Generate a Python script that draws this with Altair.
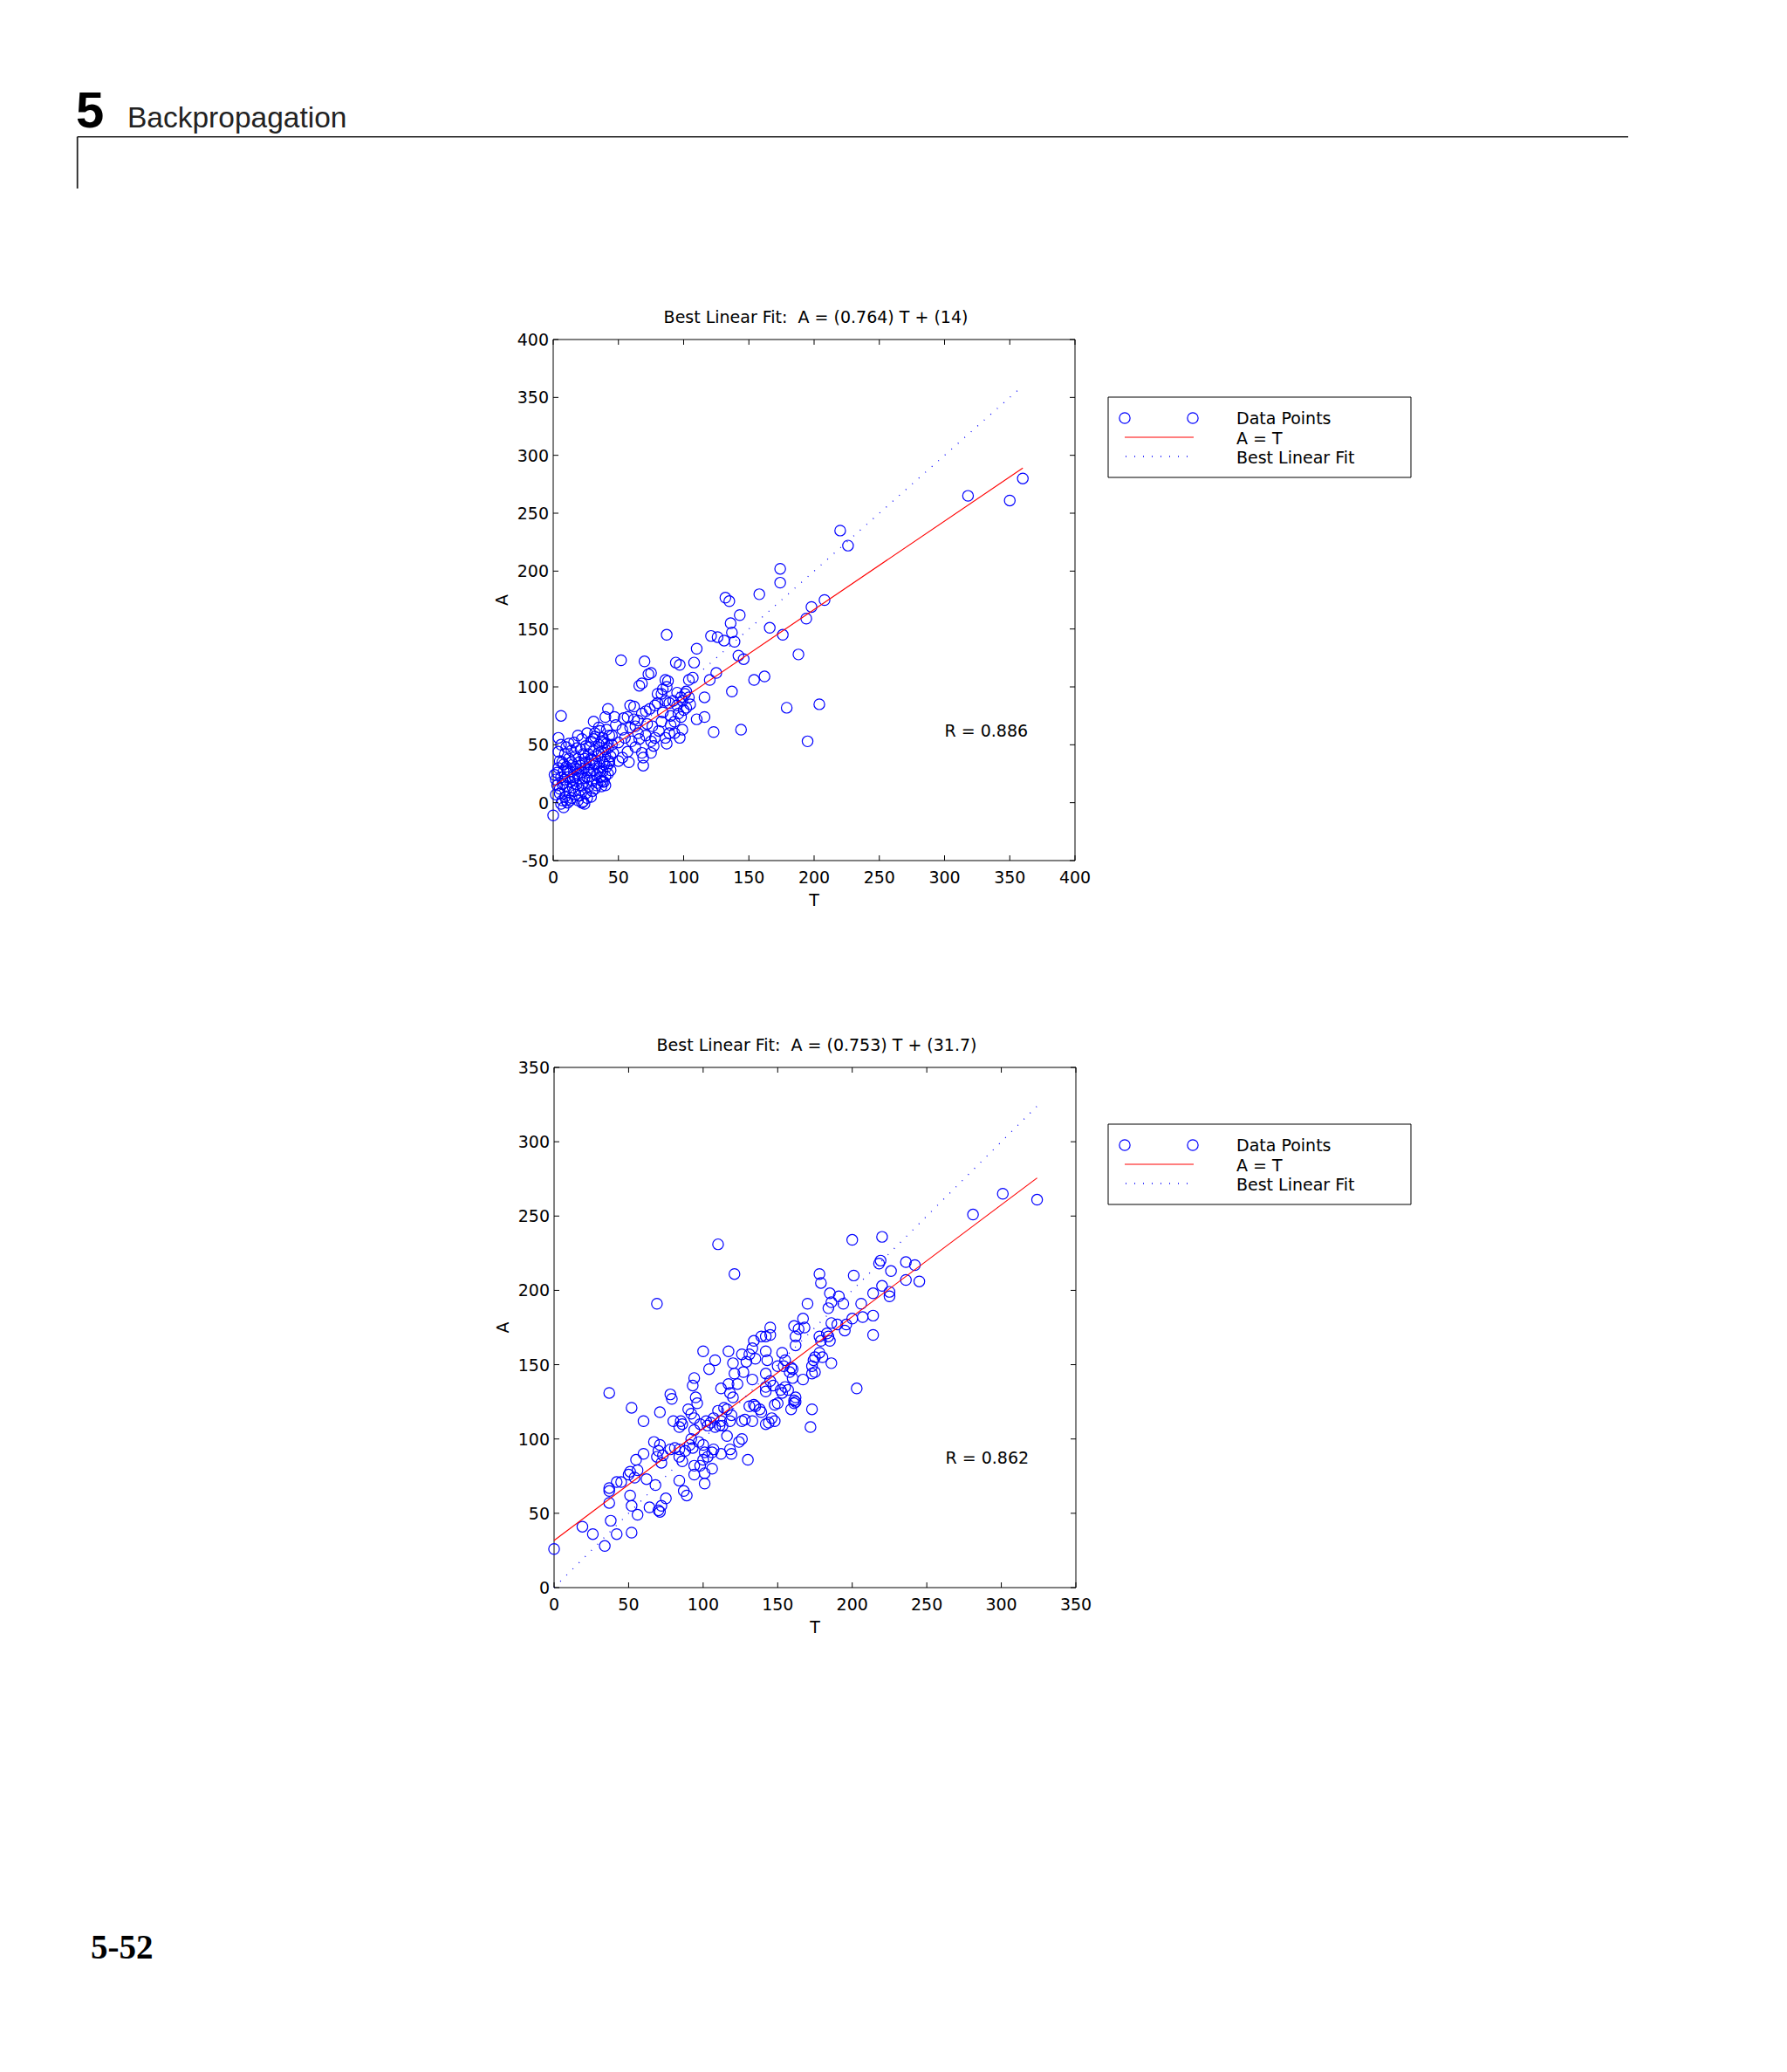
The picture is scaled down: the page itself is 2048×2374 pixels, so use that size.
import altair as alt
import pandas as pd

# ---------------- data ----------------
top_points = [
    (360,280),(350,261),(318,265),(220,235),(226,222),(174,202),(174,190),(132,177),(135,174),(158,180),
    (208,175),(198,169),(194,159),(143,162),(136,155),(137,147),(139,139),(131,140),(121,144),(126,143),
    (166,151),(176,145),(87,145),(110,133),(188,128),(142,127),(146,124),(52,123),(70,122),(94,121),
    (97,119),(108,121),(125,112),(120,106),(154,106),(162,109),(73,111),(75,112),(66,101),(68,103),
    (86,106),(88,105),(87,100),(104,106),(107,108),(102,96),(137,96),(116,91),(105,85),(179,82),
    (204,85),(110,72),(116,74),(123,61),(144,63),(195,53),(97,56),(98,74),(6,75),(42,81),
    (4,56),(0,-11),(62,83),
    (57,74),(54,73),(48,67),(53,63),(59,65),(65,71),(68,77),(71,79),(74,81),(78,84),
    (80,94),(83,94),(86,88),(89,86),(90,75),(93,70),(96,77),(98,91),(101,94),(104,91),
    (102,82),(86,56),(87,51),(89,60),(83,70),(78,56),(75,53),(71,58),(68,43),(69,39),
    (69,32),(65,60),(60,53),(57,44),(53,39),(50,36),(58,35),(46,43),(43,34),(40,46),
    (38,56),(41,63),(35,65),(32,60),(31,70),(47,74),(40,74),(37,53),(63,48),(75,43),
    (77,49),(81,62),(72,68),(93,60),(90,67),(99,63),(59,84),(92,88),(95,95),(99,88),
    (84,98),(80,86),(63,66),(66,55),(55,56),(50,52),(45,58),(62,72),(76,66),(84,78),
    (95,84),(100,80),
    (1,24),(2,20),(2,7),(3,26),(3,15),(4,30),(4,44),(5,12),(5,8),(5,36),
    (6,22),(6,50),(6,-1),(7,35),(7,2),(7,16),(8,17),(8,27),(8,33),(8,-4),
    (9,5),(9,42),(9,20),(10,14),(10,31),(10,48),(10,2),(11,0),(11,22),(11,28),
    (12,9),(12,38),(12,51),(13,18),(13,27),(13,2),(14,45),(14,4),(14,35),(15,13),
    (15,33),(15,20),(16,23),(16,52),(16,10),(17,7),(17,40),(17,30),(18,16),(18,29),
    (18,47),(19,58),(19,2),(19,25),(20,35),(20,21),(20,6),(21,11),(21,46),(21,32),
    (22,26),(22,55),(22,15),(22,0),(23,1),(23,17),(23,42),(24,38),(24,30),(24,21),
    (24,-1),(25,8),(25,49),(25,35),(26,22),(26,60),(26,4),(27,14),(27,42),(27,28),
    (28,33),(28,26),(28,48),(29,5),(29,53),(29,38),(30,19),(30,37),(30,10),(31,45),
    (31,28),(31,55),(32,12),(32,57),(32,33),(33,24),(33,34),(33,15),(34,40),(34,17),
    (35,50),(35,30),(35,43),(36,22),(36,62),(36,27),(37,44),(37,14),(37,19),(38,35),
    (38,27),(38,18),(39,18),(39,52),(39,33),(40,40),(40,23),(40,15),(41,31),(41,51),
    (42,47),(42,25),(43,36),(43,58),(44,28),(44,40),(45,50),
]

bottom_points = [
    (324,261),(301,265),(281,251),(200,234),(220,236),(110,231),(121,211),(69,191),(37,131),
    (219,220),(218,218),(236,219),(242,217),(226,213),(245,206),(236,207),(201,210),(178,211),(179,205),
    (220,203),(225,199),(225,196),(214,198),(206,191),(185,198),(191,196),(186,192),(194,191),(184,188),
    (170,191),(214,183),(207,182),(200,181),(196,177),(190,177),(186,178),(195,173),(214,170),(203,134),
    (167,181),(161,176),(164,174),(168,175),(162,169),(162,163),(178,169),(179,166),(183,171),(185,166),
    (184,169),(178,158),(180,155),(174,153),(175,155),(186,151),(173,149),(173,144),(175,145),(167,140),
    (160,147),(158,145),(159,148),(155,153),(154,149),(150,149),
    (145,175),(145,170),(142,169),(139,169),(134,166),(133,161),(153,158),(131,157),(135,154),(142,159),
    (143,153),(126,157),(129,152),(117,159),(120,151),(108,153),(104,147),(100,159),
    (112,134),(117,137),(123,137),(121,144),(127,145),(133,140),(142,144),(145,139),(142,135),(142,132),
    (147,136),(152,133),(155,135),(157,133),(162,128),(161,126),(160,141),
    (94,141),(93,136),(95,128),(96,124),(78,130),(79,127),(71,118),(52,121),(60,112),(80,112),
    (85,112),(86,110),(84,108),(90,120),(92,117),(94,114),(102,112),(103,109),(107,114),(110,119),
    (112,112),(114,121),(116,120),(119,116),(118,131),(120,128),(118,112),(111,109),(113,109),(108,108),
    (105,111),(98,110),(94,106),
    (92,100),(93,94),(97,98),(100,96),(101,91),(103,88),(106,91),(107,93),(112,90),(116,102),
    (118,93),(119,90),(124,98),(126,100),(130,86),(126,112),(128,113),(131,122),(134,123),(135,122),
    (133,112),(139,118),(138,120),(142,110),(144,111),(146,114),(148,112),(148,123),(150,124),(153,131),
    (159,120),(161,124),(162,125),(173,120),(172,108),
    (91,96),(88,92),(84,93),(84,88),(86,85),(81,94),(78,93),(71,96),(70,92),(69,88),
    (67,98),(72,84),(73,89),(75,60),(72,55),(71,51),(68,69),(60,90),(55,86),(56,79),
    (54,74),(50,76),(51,78),(45,71),(42,71),(37,67),(37,65),(37,57),(51,62),(52,55),
    (56,49),(62,73),(64,54),(70,52),
    (84,72),(87,65),(89,62),(94,76),(94,82),(98,82),(101,77),(101,70),(106,80),(100,86),
    (38,45),(19,41),(26,36),(34,28),(42,36),(52,37),(0,26),
]

top_fit = (0.764, 14)
bottom_fit = (0.753, 31.7)
top_r = "R = 0.886"
bottom_r = "R = 0.862"
top_title = "Best Linear Fit:\u00a0 A = (0.764) T + (14)"
bottom_title = "Best Linear Fit:\u00a0 A = (0.753) T + (31.7)"
top_x_ticks = [0, 50, 100, 150, 200, 250, 300, 350, 400]
top_y_ticks = [-50, 0, 50, 100, 150, 200, 250, 300, 350, 400]
bottom_x_ticks = [0, 50, 100, 150, 200, 250, 300, 350]
bottom_y_ticks = [0, 50, 100, 150, 200, 250, 300, 350]
legend_labels = ["Data Points", "A = T", "Best Linear Fit"]

# ---------------- styling ----------------
FONT = "DejaVu Sans"
FS = 19
BLUE = "#0000ff"
RED = "#ff0000"
TICK = 6
PT_SIZE = 150
PT_STROKE = 1.2
ONE = pd.DataFrame({"k": [0]})


def vtext(text, x, y, **kw):
    props = dict(font=FONT, fontSize=FS, color="black", align="left", baseline="alphabetic")
    props.update(kw)
    return alt.Chart(ONE).mark_text(text=text, **props).encode(x=alt.value(x), y=alt.value(y))


def vrule(x, y, x2=None, y2=None, **kw):
    enc = dict(x=alt.value(x), y=alt.value(y))
    if x2 is not None:
        enc["x2"] = alt.value(x2)
    if y2 is not None:
        enc["y2"] = alt.value(y2)
    return alt.Chart(ONE).mark_rule(**kw).encode(**enc)


def panel(points, fit, rtext, title, xticks, yticks, left, top, right, bottom):
    xd = [xticks[0], xticks[-1]]
    yd = [yticks[0], yticks[-1]]
    xs = alt.Scale(domain=xd, range=[left, right], nice=False, zero=False)
    ys = alt.Scale(domain=yd, range=[bottom, top], nice=False, zero=False)

    def X(f):
        return alt.X(f, scale=xs, axis=None)

    def Y(f):
        return alt.Y(f, scale=ys, axis=None)

    df = pd.DataFrame(points, columns=["T", "A"])
    tmax = float(df["T"].max())
    lines = pd.DataFrame({"T": [0.0, tmax]})
    lines["fit"] = fit[0] * lines["T"] + fit[1]
    lines["ident"] = lines["T"]

    frame_df = pd.DataFrame({"x0": [xd[0]], "x1": [xd[1]], "y0": [yd[0]], "y1": [yd[1]]})
    frame = alt.Chart(frame_df).mark_rect(fillOpacity=0, stroke="black", strokeWidth=1).encode(
        x=X("x0:Q"), x2="x1:Q", y=Y("y0:Q"), y2="y1:Q")

    pts = alt.Chart(df).mark_point(shape="circle", filled=False, color=BLUE, size=PT_SIZE,
                                   strokeWidth=PT_STROKE, opacity=1).encode(x=X("T:Q"), y=Y("A:Q"))
    red = alt.Chart(lines).mark_line(color=RED, strokeWidth=1.1).encode(x=X("T:Q"), y=Y("fit:Q"))
    dotted = alt.Chart(lines).mark_line(color=BLUE, strokeWidth=1.3, strokeDash=[1, 9]).encode(
        x=X("T:Q"), y=Y("ident:Q"))

    xt = pd.DataFrame({"v": xticks, "lab": [str(v) for v in xticks]})
    yt = pd.DataFrame({"v": yticks, "lab": [str(v) for v in yticks]})
    tk = dict(color="black", strokeWidth=1)
    xb = alt.Chart(xt).mark_rule(**tk).encode(x=X("v:Q"), y=alt.value(bottom), y2=alt.value(bottom - TICK))
    xtp = alt.Chart(xt).mark_rule(**tk).encode(x=X("v:Q"), y=alt.value(top), y2=alt.value(top + TICK))
    yl = alt.Chart(yt).mark_rule(**tk).encode(y=Y("v:Q"), x=alt.value(left), x2=alt.value(left + TICK))
    yr = alt.Chart(yt).mark_rule(**tk).encode(y=Y("v:Q"), x=alt.value(right), x2=alt.value(right - TICK))

    xlab = alt.Chart(xt).mark_text(font=FONT, fontSize=FS, color="black", align="center",
                                   baseline="alphabetic").encode(
        x=X("v:Q"), y=alt.value(bottom + 26), text="lab:N")
    ylab = alt.Chart(yt).mark_text(font=FONT, fontSize=FS, color="black", align="right",
                                   baseline="alphabetic", dy=7).encode(
        x=alt.value(left - 5), y=Y("v:Q"), text="lab:N")

    rdf = pd.DataFrame({"T": [xd[0] + 0.75 * (xd[1] - xd[0])],
                        "A": [yd[0] + 0.25 * (yd[1] - yd[0])], "label": [rtext]})
    rt = alt.Chart(rdf).mark_text(align="left", baseline="alphabetic", dy=7, font=FONT, fontSize=FS,
                                  color="black").encode(x=X("T:Q"), y=Y("A:Q"), text="label:N")

    cx = (left + right) / 2
    cy = (top + bottom) / 2
    ttl = vtext(title, cx + 2, top - 19, align="center")
    xtitle = vtext("T", cx, bottom + 52, align="center")
    ytitle = vtext("A", left - 52, cy, align="center", angle=270)

    return alt.layer(frame, pts, red, dotted, xb, xtp, yl, yr, xlab, ylab, rt, ttl, xtitle, ytitle)


def legend_box(left, top):
    box = alt.Chart(ONE).mark_rect(fillOpacity=0, stroke="black", strokeWidth=1).encode(
        x=alt.value(left), x2=alt.value(left + 347), y=alt.value(top), y2=alt.value(top + 92))
    c1 = alt.Chart(ONE).mark_point(shape="circle", filled=False, color=BLUE, size=PT_SIZE,
                                   strokeWidth=PT_STROKE, opacity=1).encode(
        x=alt.value(left + 19), y=alt.value(top + 24))
    c2 = alt.Chart(ONE).mark_point(shape="circle", filled=False, color=BLUE, size=PT_SIZE,
                                   strokeWidth=PT_STROKE, opacity=1).encode(
        x=alt.value(left + 97), y=alt.value(top + 24))
    rl = vrule(left + 19, top + 46, x2=left + 98, color=RED, strokeWidth=1.1)
    dl = vrule(left + 20, top + 68, x2=left + 92, color=BLUE, strokeWidth=1.3, strokeDash=[1, 9])
    texts = [vtext(lbl, left + 147, top + yy) for lbl, yy in zip(legend_labels, [31, 53.5, 76])]
    return [box, c1, c2, rl, dl] + texts


# ---------------- page decorations ----------------
h5 = vtext("5", 79, 138, font="Liberation Sans", fontSize=58, fontWeight="bold")
hbp = vtext("Backpropagation", 138, 138, font="Liberation Sans", fontSize=33.5, color="#222222")
hline = vrule(80.7, 148.7, x2=1858, color="#222222", strokeWidth=1.5)
vline = vrule(80.7, 148.7, y2=208, color="#222222", strokeWidth=1.8)
footer = vtext("5-52", 96, 2236, font="Liberation Serif", fontSize=39, fontWeight="bold")

p1 = panel(top_points, top_fit, top_r, top_title, top_x_ticks, top_y_ticks, 626, 381, 1224, 978)
p2 = panel(bottom_points, bottom_fit, bottom_r, bottom_title, bottom_x_ticks, bottom_y_ticks,
           627, 1215, 1225, 1811)

layers = [h5, hbp, hline, vline, footer, p1, p2] + legend_box(1262, 447) + legend_box(1262, 1280)

chart = alt.layer(*layers).resolve_scale(x="independent", y="independent").properties(
    width=2000, height=2300, padding=0,
    autosize=alt.AutoSizeParams(type="none"),
).configure_view(stroke="transparent")

chart.save("out.html", embed_options={"renderer": "svg", "actions": False})
